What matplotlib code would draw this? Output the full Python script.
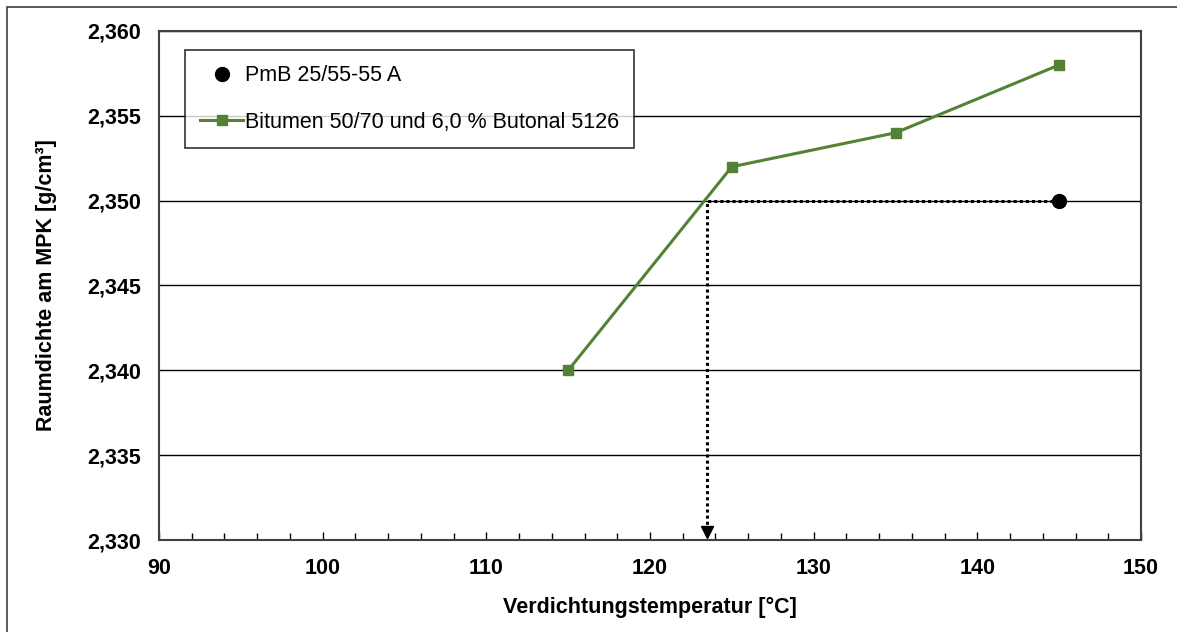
import matplotlib.pyplot as plt
from matplotlib.patches import Rectangle
from matplotlib.ticker import FuncFormatter, MultipleLocator

plt.rcParams['font.family'] = ['Liberation Sans', 'DejaVu Sans']

# data
temp_bit = [115, 125, 135, 145]
dens_bit = [2.340, 2.352, 2.354, 2.358]
temp_pmb = [145]
dens_pmb = [2.350]
temp_equiv = 123.5   # read-off temperature for same density

fig = plt.figure(figsize=(11.77, 6.32), dpi=100)
fig.patches.append(Rectangle((7 / 1177, -0.1), 1.2, 1 - 7 / 632 + 0.1,
                             transform=fig.transFigure, fill=False,
                             edgecolor='#404040', linewidth=1.2))
ax = fig.add_axes([159 / 1177, 1 - 540 / 632, (1141 - 159) / 1177, (540 - 31) / 632])

ax.set_xlim(90, 150)
ax.set_ylim(2.330, 2.360)
ax.xaxis.set_major_locator(MultipleLocator(10))
ax.xaxis.set_minor_locator(MultipleLocator(2))
ax.yaxis.set_major_locator(MultipleLocator(0.005))
ax.yaxis.set_major_formatter(FuncFormatter(lambda v, p: f"{v:.3f}".replace('.', ',')))
ax.tick_params(axis='x', which='major', direction='in', length=6, width=1, pad=13,
               labelsize=15.5)
ax.tick_params(axis='x', which='minor', direction='in', length=5, width=1)
ax.tick_params(axis='y', length=0, pad=13, labelsize=15.5)
for lab in ax.get_xticklabels() + ax.get_yticklabels():
    lab.set_fontweight('bold')

ax.grid(axis='y', color='black', linewidth=1)
ax.set_axisbelow(True)
for s in ax.spines.values():
    s.set_color('#404040')
    s.set_linewidth(1.5)

# guide: from PmB point across to the curve and down to the x axis
ax.plot([temp_pmb[0], temp_equiv, temp_equiv], [dens_pmb[0], dens_pmb[0], 2.3305],
        color='black', linewidth=2.2, linestyle=(0, (1, 1)), zorder=3)
ax.plot([temp_equiv], [2.3305], marker='v', color='black', markersize=8, zorder=3)

ax.plot(temp_pmb, dens_pmb, 'o', color='black', markersize=10, zorder=4,
        label='PmB 25/55-55 A')
ax.plot(temp_bit, dens_bit, '-s', color='#548235', linewidth=2.2, markersize=7,
        zorder=4, label='Bitumen 50/70 und 6,0 % Butonal 5126')

leg = ax.legend(loc='upper left', bbox_to_anchor=(0.0265, 0.9627), fontsize=15.5,
                frameon=True, fancybox=False, edgecolor='black', borderpad=0.7,
                labelspacing=1.2, handlelength=2.0, handletextpad=0.1,
                borderaxespad=0)
leg.get_frame().set_linewidth(1.2)

ax.set_xlabel('Verdichtungstemperatur [°C]', fontsize=15.5, fontweight='bold', labelpad=13)
ax.set_ylabel('Raumdichte am MPK [g/cm³]', fontsize=15.5, fontweight='bold', labelpad=22)

fig.savefig('out.png', dpi=100)
